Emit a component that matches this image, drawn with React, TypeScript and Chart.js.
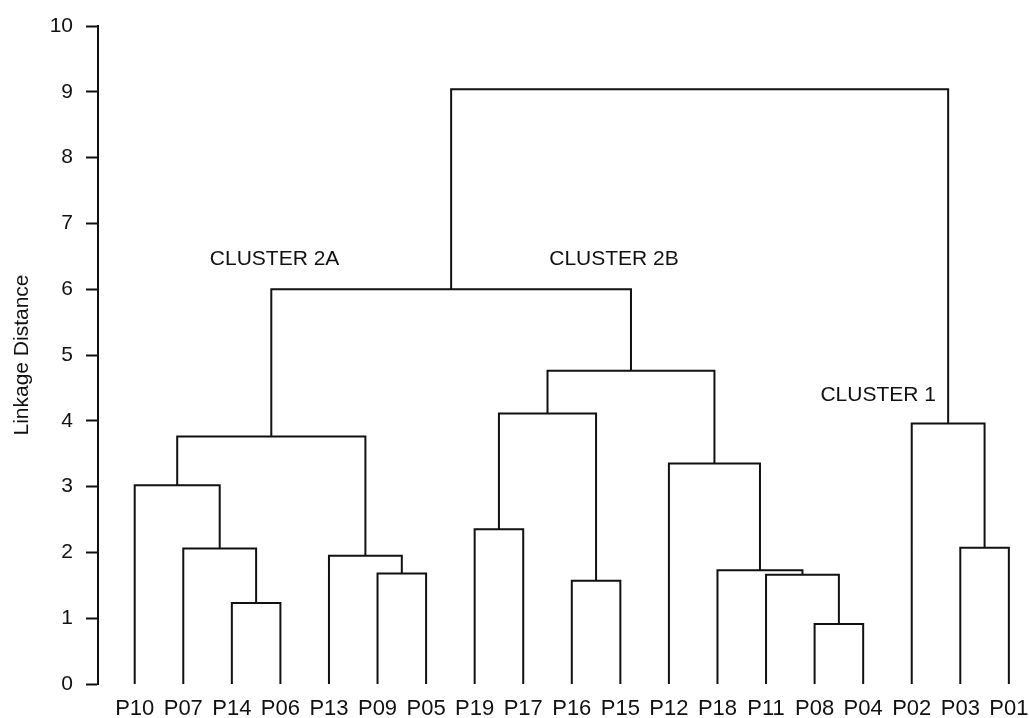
import React, { useEffect, useRef } from "react";
import { Chart, registerables } from "chart.js";

Chart.register(...registerables);

// Leaf order along the x axis
const leaves = [
  "P10", "P07", "P14", "P06", "P13", "P09", "P05", "P19", "P17", "P16",
  "P15", "P12", "P18", "P11", "P08", "P04", "P02", "P03", "P01",
];

// Merges: [left child, right child, linkage distance]; "cN" = result of merge N (1-based)
const mergeLeft = ["P14", "P07", "P10", "P09", "P13", "c3", "P19", "P16", "c7", "P08", "P11", "P18", "P12", "c9", "c6", "P03", "P02", "c15"];
const mergeRight = ["P06", "c1", "c2", "P05", "c4", "c5", "P17", "P15", "c8", "P04", "c10", "c11", "c12", "c13", "c14", "P01", "c16", "c17"];
const mergeHeight = [1.23, 2.06, 3.02, 1.68, 1.95, 3.76, 2.35, 1.57, 4.11, 0.91, 1.66, 1.73, 3.35, 4.76, 6.0, 2.07, 3.96, 9.04];

// Cluster annotations
const clusterLabels = ["CLUSTER 2A", "CLUSTER 2B", "CLUSTER 1"];
const clusterLabelX = [2.88, 9.87, 15.31];
const clusterLabelY = [6.45, 6.45, 4.39];

const yTicks = [0, 1, 2, 3, 4, 5, 6, 7, 8, 9, 10];

const FONT = "'Liberation Sans', Arial, Helvetica, sans-serif";
const LINE = "#111";

function buildLinks() {
  const pos: Record<string, { x: number; h: number }> = {};
  leaves.forEach((name, i) => (pos[name] = { x: i, h: 0 }));
  const links: { x: number; y: number }[][] = [];
  mergeHeight.forEach((h, i) => {
    const l = pos[mergeLeft[i]];
    const r = pos[mergeRight[i]];
    links.push([
      { x: l.x, y: l.h },
      { x: l.x, y: h },
      { x: r.x, y: h },
      { x: r.x, y: r.h },
    ]);
    pos["c" + (i + 1)] = { x: (l.x + r.x) / 2, h };
  });
  return links;
}

const labelPlugin = {
  id: "clusterLabels",
  afterDatasetsDraw(chart: any) {
    const { ctx, scales } = chart;
    ctx.save();
    ctx.fillStyle = "#111";
    ctx.font = `21px ${FONT}`;
    ctx.textAlign = "center";
    ctx.textBaseline = "middle";
    clusterLabels.forEach((t, i) => {
      ctx.fillText(t, scales.x.getPixelForValue(clusterLabelX[i]), scales.y.getPixelForValue(clusterLabelY[i]));
    });
    ctx.restore();
  },
};

export default function App() {
  const ref = useRef<HTMLCanvasElement>(null);
  useEffect(() => {
    if (!ref.current) return;
    const links = buildLinks();
    const chart = new Chart(ref.current, {
      type: "line",
      data: {
        datasets: links.map((pts) => ({
          data: pts,
          borderColor: LINE,
          borderWidth: 2,
          pointRadius: 0,
          tension: 0,
          fill: false,
          borderJoinStyle: "miter" as const,
        })),
      },
      options: {
        animation: false,
        responsive: true,
        maintainAspectRatio: false,
        layout: { padding: { top: 26, right: 8, bottom: 0, left: 0 } },
        plugins: { legend: { display: false }, tooltip: { enabled: false } },
        events: [],
        scales: {
          x: {
            type: "linear",
            min: -0.756,
            max: 18.25,
            grid: { display: false, drawTicks: false },
            border: { display: false },
            afterBuildTicks: (scale: any) => {
              scale.ticks = leaves.map((_, i) => ({ value: i }));
            },
            afterFit: (scale: any) => {
              scale.height = 34;
              scale.paddingLeft = 0;
              scale.paddingRight = 0;
            },
            ticks: {
              autoSkip: false,
              maxRotation: 0,
              padding: 12,
              color: "#111",
              font: { family: FONT, size: 22 },
              callback: (v: any) => leaves[v as number] ?? "",
            },
          },
          y: {
            type: "linear",
            min: 0,
            max: 10,
            afterBuildTicks: (scale: any) => {
              scale.ticks = yTicks.map((v) => ({ value: v }));
            },
            afterFit: (scale: any) => {
              scale.width = 98;
            },
            grid: {
              display: true,
              drawOnChartArea: false,
              drawTicks: true,
              tickLength: 12,
              tickWidth: 2,
              color: LINE,
            },
            border: { display: true, color: LINE, width: 2 },
            title: {
              display: true,
              text: "Linkage Distance",
              color: "#111",
              font: { family: FONT, size: 21 },
              padding: { top: 10, bottom: 0 },
            },
            ticks: {
              padding: 13,
              color: "#111",
              font: { family: FONT, size: 21 },
            },
          },
        },
      },
      plugins: [labelPlugin],
    });
    return () => chart.destroy();
  }, []);
  return (
    <div style={{ position: "fixed", left: 0, top: 0, width: 1029, height: 718, background: "#fff" }}>
      <canvas ref={ref} />
    </div>
  );
}
